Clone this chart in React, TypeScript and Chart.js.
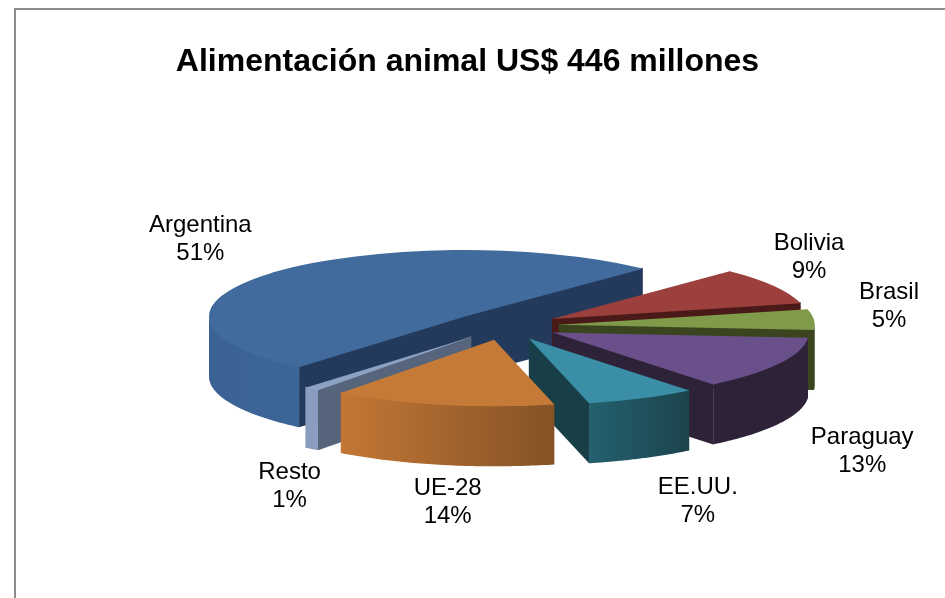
import React, { useEffect, useRef } from "react";
import { Chart, registerables } from "chart.js";

Chart.register(...registerables);

const categories = ["Argentina", "Bolivia", "Brasil", "Paraguay", "EE.UU.", "UE-28", "Resto"];
const shares = [51, 9, 5, 13, 7, 14, 1];
const chartTitle = "Alimentación animal US$ 446 millones";

const topColors = ["#406B9C", "#9B403D", "#7F9A48", "#69508A", "#3A8FA6", "#C67A37", "#8CA2C4"];
const cutColors = ["#243A5C", "#4A1A18", "#3A4520", "#2E2238", "#183E48", "#3E2A18", "#56647C"];
const wallStart = ["#3A6294", "#5A2422", "#3F4D24", "#2E2238", "#24606F", "#C47735", "#8A9DC0"];
const wallEnd = ["#3D6698", "#4A1A18", "#3A4520", "#2E2238", "#1C444C", "#845226", "#8A9DC0"];

// label shift (px) from the projected outer rim point of each slice
const labelShift: [number, number][] = [
  [-75, -32], [35, -29], [75, -13], [83, 88], [56, 103], [5, 97], [-22, 97],
];

const PIE = { cx: 505, cy: 326, radius: 256, explode: 54, tilt: 0.26, depth: 60 };

const pie3d = {
  id: "pie3d",
  beforeDatasetsDraw(chart: any) {
    const ctx: CanvasRenderingContext2D = chart.ctx;
    const arcs = chart.getDatasetMeta(0).data as any[];
    const { cx, cy, tilt, depth, explode } = PIE;
    const items = arcs.map((arc, i) => {
      const mid = (arc.startAngle + arc.endAngle) / 2;
      const ax = Math.cos(mid) * explode;
      const ay = Math.sin(mid) * explode;
      return { arc, i, mid, ax, ay, R: arc.outerRadius };
    });
    const order = [...items].sort((a, b) => Math.sin(a.mid) - Math.sin(b.mid));

    for (const it of order) {
      const { arc, i, ax, ay, R } = it;
      const sx = (a: number) => cx + ax + R * Math.cos(a);
      const sy = (a: number) => cy + (ay + R * Math.sin(a)) * tilt;
      const apexX = cx + ax;
      const apexY = cy + ay * tilt;

      // cut faces that look towards the viewer (slightly under the top face, to avoid a seam)
      ctx.fillStyle = cutColors[i];
      const faces: [number, number][] = [
        [arc.startAngle, -Math.cos(arc.startAngle)],
        [arc.endAngle, Math.cos(arc.endAngle)],
      ];
      for (const [a, facing] of faces) {
        if (facing <= 0) continue;
        ctx.beginPath();
        ctx.moveTo(apexX, apexY - 1);
        ctx.lineTo(sx(a), sy(a) - 1);
        ctx.lineTo(sx(a), sy(a) + depth);
        ctx.lineTo(apexX, apexY + depth);
        ctx.closePath();
        ctx.fill();
      }

      // outer wall: the part of the rim that faces the viewer
      for (const k of [-2, 0, 2]) {
        const from = Math.max(arc.startAngle, k * Math.PI);
        const to = Math.min(arc.endAngle, (k + 1) * Math.PI);
        if (to <= from) continue;
        const x0 = Math.min(sx(from), sx(to));
        const x1 = Math.max(sx(from), sx(to));
        const grad = ctx.createLinearGradient(x0, 0, x1, 0);
        grad.addColorStop(0, wallStart[i]);
        grad.addColorStop(1, wallEnd[i]);
        ctx.fillStyle = grad;
        ctx.beginPath();
        const steps = 60;
        for (let s = 0; s <= steps; s++) {
          const a = from + ((to - from) * s) / steps;
          if (s === 0) ctx.moveTo(sx(a), sy(a) - 1);
          else ctx.lineTo(sx(a), sy(a) - 1);
        }
        for (let s = steps; s >= 0; s--) {
          const a = from + ((to - from) * s) / steps;
          ctx.lineTo(sx(a), sy(a) + depth);
        }
        ctx.closePath();
        ctx.fill();
      }

      // top face, drawn by the library's own arc element
      ctx.save();
      ctx.translate(cx, cy);
      ctx.scale(1, tilt);
      ctx.translate(ax - arc.x, ay - arc.y);
      arc.draw(ctx);
      ctx.restore();
    }

    // data labels
    ctx.save();
    ctx.fillStyle = "#000";
    ctx.font = '24px "Liberation Sans"';
    ctx.textAlign = "center";
    ctx.textBaseline = "middle";
    for (const it of items) {
      const rimX = cx + it.ax + it.R * Math.cos(it.mid);
      const rimY = cy + (it.ay + it.R * Math.sin(it.mid)) * tilt;
      const x = rimX + labelShift[it.i][0];
      const y = rimY + labelShift[it.i][1];
      ctx.fillText(categories[it.i], x, y - 14);
      ctx.fillText(`${shares[it.i]}%`, x, y + 14);
    }
    ctx.restore();
    return false;
  },
};

export default function App() {
  const ref = useRef<HTMLCanvasElement>(null);
  useEffect(() => {
    const chart = new Chart(ref.current!, {
      type: "pie",
      data: {
        labels: categories,
        datasets: [
          {
            data: shares,
            backgroundColor: topColors,
            borderWidth: 0,
            radius: PIE.radius,
          } as any,
        ],
      },
      options: {
        responsive: false,
        animation: false,
        rotation: -139.6,
        plugins: {
          legend: { display: false },
          tooltip: { enabled: false },
          title: {
            display: true,
            text: chartTitle,
            color: "#000",
            font: { family: '"Liberation Sans"', size: 32, weight: "bold" },
            padding: { top: 43, bottom: 10 },
          },
        },
      },
      plugins: [pie3d],
    } as any);
    return () => chart.destroy();
  }, []);

  return (
    <div style={{ position: "fixed", left: 0, top: 0, width: 945, height: 598, overflow: "hidden", background: "#fff" }}>
      <div
        style={{
          position: "absolute",
          left: 14,
          top: 8,
          right: 0,
          bottom: 0,
          borderLeft: "2px solid #8C8C8C",
          borderTop: "2px solid #8C8C8C",
        }}
      />
      <canvas ref={ref} width={935} height={598} style={{ position: "absolute", left: 0, top: 0 }} />
    </div>
  );
}
